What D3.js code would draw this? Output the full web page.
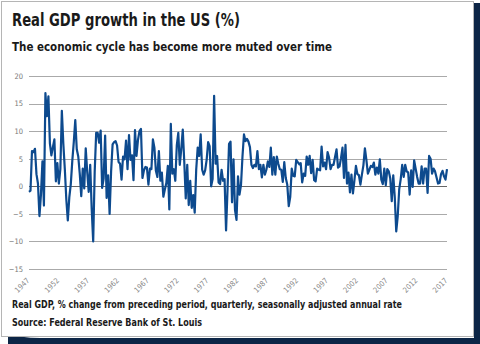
<!DOCTYPE html>
<html>
<head>
<meta charset="utf-8">
<script src="https://cdn.jsdelivr.net/npm/d3@7"></script>
<style>
  body { margin: 0; background: #fff; }
  svg { display: block; }
</style>
</head>
<body>
<script>
// quarterly real GDP growth, % SAAR, 1947Q2 .. 2017Q2
var growth = [
  -1.0, -0.8, 6.4,
  6.2, 6.8, 2.2, 0.5,
  -5.4, -1.5, 4.5, -3.5,
  16.9, 12.7, 16.3, 7.8,
  5.6, 7.1, 8.5, 0.9,
  4.2, 0.5, 3.1, 13.7,
  7.7, 3.1, -2.4, -6.2,
  -2.0, 0.4, 4.6, 8.0,
  12.0, 6.7, 5.4, 2.3,
  -1.8, 3.2, -0.4, 6.9,
  2.6, -1.0, 3.9, -4.1,
  -10.0, 2.6, 9.7, 9.7,
  7.9, 10.1, -0.3, 1.4,
  9.2, -2.1, 2.0, -5.0,
  2.7, 7.6, 8.0, 8.2,
  7.4, 4.4, 4.1, 1.2,
  5.4, 4.9, 8.3, 3.1,
  9.3, 4.8, 5.6, 1.1,
  10.2, 5.5, 8.4, 10.0,
  10.4, 1.5, 2.9, 3.5,
  3.4, 0.3, 3.2, 3.1,
  8.5, 7.0, 2.8, 1.7,
  6.4, 1.0, 2.5, -1.9,
  -0.6, 0.6, 3.7, -4.2,
  11.3, 2.3, 3.1, 1.0,
  7.4, 9.7, 3.9, 6.8,
  10.3, 4.5, -2.2, 3.9,
  -3.4, 1.0, -3.9, -1.6,
  -4.8, 3.0, 7.0, 5.5,
  9.4, 3.0, 2.1, 2.9,
  4.8, 8.0, 7.3, 0.0,
  1.3, 16.4, 4.1, 5.5,
  0.7, 0.4, 3.0, 1.0,
  1.3, -8.0, -0.5, 7.7,
  8.1, -2.9, 4.9, -4.3,
  -6.1, 1.8, -1.5, 0.2,
  5.4, 9.4, 8.2, 8.6,
  8.1, 7.1, 3.9, 3.3,
  3.9, 3.6, 6.4, 3.1,
  3.9, 1.6, 3.9, 2.1,
  3.0, 4.5, 3.5, 7.0,
  2.1, 5.3, 2.1, 5.4,
  4.1, 3.1, 3.0, 0.8,
  4.4, 1.5, 0.3, -3.6,
  -1.9, 3.2, 1.9, 1.8,
  4.8, 4.4, 4.0, 4.2,
  0.7, 2.3, 1.9, 5.4,
  3.9, 5.5, 2.4, 4.8,
  1.1, 0.9, 3.2, 3.0,
  2.9, 7.2, 3.6, 4.3,
  3.1, 6.2, 5.2, 3.1,
  3.9, 3.9, 5.3, 6.7,
  3.4, 3.6, 5.1, 7.0,
  1.5, 7.5, 0.5, 2.5,
  -1.1, 2.1, -1.3, 1.1,
  3.7, 2.2, 2.0, 0.3,
  2.1, 3.8, 6.9, 4.8,
  2.3, 3.0, 3.7, 3.5,
  4.3, 2.1, 3.4, 2.3,
  4.9, 1.2, 0.4, 3.2,
  0.2, 3.1, 2.7, 1.4,
  -2.7, 2.0, -1.9, -8.2,
  -5.4, -0.5, 1.3, 3.9,
  1.7, 3.9, 2.7, 2.5,
  -1.5, 2.9, -0.1, 4.7,
  3.2, 1.7, 0.5, 0.5,
  3.6, 0.5, 3.2, 3.2,
  -1.2, 5.5, 5.0, 2.3,
  3.2, 2.7, 1.6, 0.5,
  0.6, 2.2, 2.8, 1.8,
  1.2, 3.1
];
var yTicks = [20, 15, 10, 5, 0, -5, -10, -15];
var xTickLabels = ["1947", "1952", "1957", "1962", "1967", "1972", "1977", "1982",
                   "1987", "1992", "1997", "2002", "2007", "2012", "2017"];

var titleText = "Real GDP growth in the US (%)";
var subtitleText = "The economic cycle has become more muted over time";
var noteText = "Real GDP, % change from preceding period, quarterly, seasonally adjusted annual rate";
var sourceText = "Source: Federal Reserve Bank of St. Louis";

var w = 480;
var h = 344;
var font = "'DejaVu Sans Condensed', 'DejaVu Sans', sans-serif";

var svg = d3.select("body")
    .append("svg")
    .attr("width", w)
    .attr("height", h);

// card with dark shadow
svg.append("path")
    .attr("d", "M8,333 Q20,338 40,338 L474,338 L474,3 L480,3 L480,344 L8,344 Z")
    .attr("fill", "#0c2546");
svg.append("rect")
    .attr("x", 1.5)
    .attr("y", 1.5)
    .attr("width", 472)
    .attr("height", 335)
    .attr("fill", "#fff")
    .attr("stroke", "#b5b5b5")
    .attr("stroke-width", 1);

function headText(str, y, size, len) {
    svg.append("text")
        .text(str)
        .attr("x", 12)
        .attr("y", y)
        .attr("font-family", font)
        .attr("font-weight", "bold")
        .attr("font-size", size)
        .attr("textLength", len)
        .attr("lengthAdjust", "spacingAndGlyphs")
        .attr("fill", "#1a1a1a");
}
headText(titleText, 26, "18px", 228);
headText(subtitleText, 51, "13px", 320);
headText(noteText, 308, "10.5px", 390);
headText(sourceText, 326, "10.5px", 190);

// scales
var x0 = 29, x1 = 447;
var xScale = d3.scaleLinear()
    .domain([0, growth.length - 1])
    .range([x0, x1]);
var yScale = d3.scaleLinear()
    .domain([-15, 20])
    .range([269, 76]);

// grid lines
svg.append("g")
    .selectAll("line")
    .data(yTicks)
    .enter()
    .append("line")
    .attr("x1", x0)
    .attr("x2", x1)
    .attr("y1", function (d) { return Math.round(yScale(d)) + 0.5; })
    .attr("y2", function (d) { return Math.round(yScale(d)) + 0.5; })
    .attr("stroke", function (d) { return d === 0 ? "#666" : "#aaa"; })
    .attr("stroke-width", 1.2);

// y labels
var yAxis = d3.axisLeft(yScale)
    .tickValues(yTicks)
    .tickSize(0)
    .tickPadding(0);
var gy = svg.append("g")
    .attr("transform", "translate(23,0)")
    .call(yAxis);
gy.select(".domain").remove();
gy.selectAll("text")
    .attr("font-family", font)
    .attr("font-size", "7.5px")
    .attr("fill", "#777");

// x labels: one every 20 quarters
var gx = svg.append("g");
gx.selectAll("text")
    .data(xTickLabels)
    .enter()
    .append("text")
    .text(function (d) { return d; })
    .attr("transform", function (d, i) {
        return "translate(" + (xScale(i * 20) + 1) + ",281) rotate(-45)";
    })
    .attr("text-anchor", "end")
    .attr("font-family", font)
    .attr("font-size", "7.5px")
    .attr("fill", "#888");

// the series
var line = d3.line()
    .x(function (d, i) { return xScale(i); })
    .y(function (d) { return yScale(d); });

svg.append("path")
    .datum(growth)
    .attr("d", line)
    .attr("fill", "none")
    .attr("stroke", "#0d4a8e")
    .attr("stroke-width", 2.2)
    .attr("stroke-linejoin", "round");
</script>
</body>
</html>
